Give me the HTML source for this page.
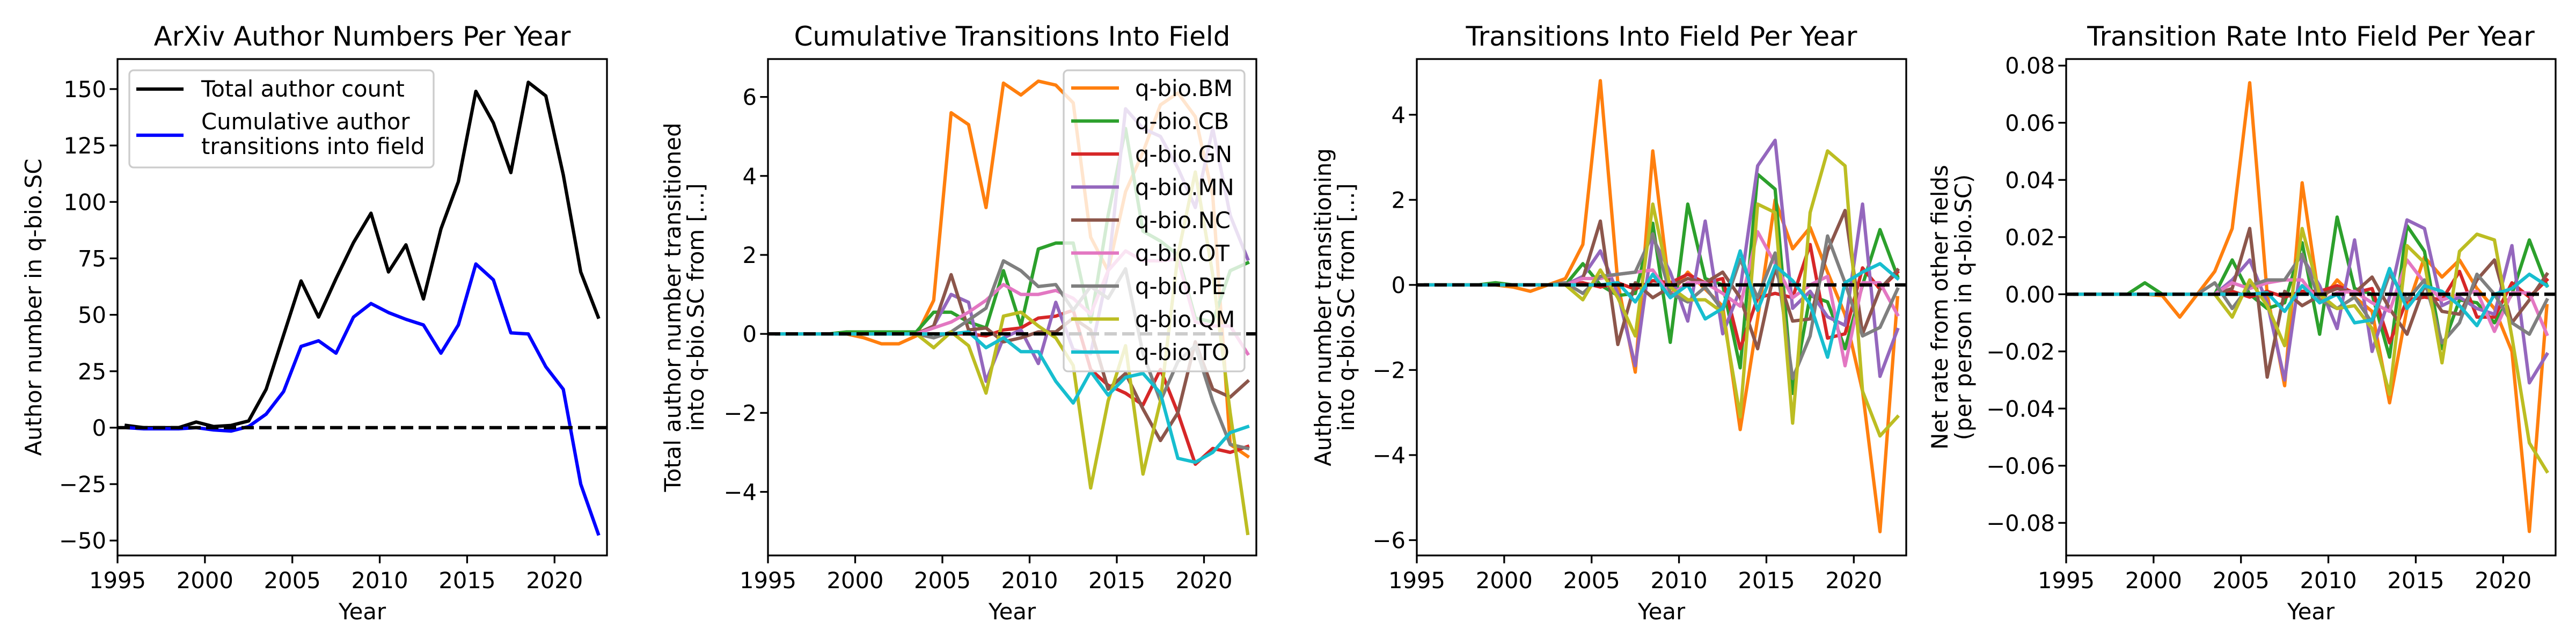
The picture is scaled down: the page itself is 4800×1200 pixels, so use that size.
<!DOCTYPE html>
<html><head><meta charset="utf-8"><style>
html,body{margin:0;padding:0;background:#fff}
svg{display:block;font-family:"DejaVu Sans","Liberation Sans",sans-serif}
</style></head><body>
<svg id="chart" width="4800" height="1200" viewBox="0 0 4800 1200" xmlns="http://www.w3.org/2000/svg"></svg>
<script>
const years = [1995,1996,1997,1998,1999,2000,2001,2002,2003,2004,2005,2006,2007,2008,2009,2010,2011,2012,2013,2014,2015,2016,2017,2018,2019,2020,2021,2022];
const xTicks = [1995,2000,2005,2010,2015,2020];
const fieldNames = ["q-bio.BM","q-bio.CB","q-bio.GN","q-bio.MN","q-bio.NC","q-bio.OT","q-bio.PE","q-bio.QM","q-bio.TO"];

const totalAuthors = [1,0,0,0,2.5,0.5,1,3,17,41,65,49,66,82,95,69,81,57,88,109,149,135,113,153,147,112,69,49];
const cumAuthorTransitions = [0,-0.5,-0.5,-0.5,0,-1,-1.5,0.5,6,16,36,38.5,33,49,55,51,48,45.5,33,45.5,72.5,65.5,42,41.5,27,17,-25,-47];

const cumBM = [0,0,0,0,0,-0.1,-0.25,-0.25,-0.05,0.85,5.6,5.3,3.2,6.35,6.05,6.4,6.3,5.85,2.45,1.6,3.6,4.6,5.8,6.1,5.5,3.5,-2.8,-3.1];
const cumCB = [0,0,0,0,0.05,0.05,0.05,0.05,0.05,0.55,0.55,0.3,0.15,1.6,0.2,2.15,2.3,2.3,0.3,3.0,5.2,2.6,2.35,2.0,0.4,0.3,1.6,1.8];
const cumGN = [0,0,0,0,0,0,0,0,0,0,0,0,-0.05,0.1,0.15,0.4,0.45,0.6,-0.9,-1.3,-1.5,-1.8,-0.9,-2.0,-3.3,-2.9,-3.0,-2.85];
const cumMN = [0,0,0,0,0,0,0,0,0,0.2,1.0,0.8,-1.2,-0.1,0.1,-0.75,0.8,-0.4,-0.5,1.6,5.7,5.2,5.0,4.2,3.2,5.2,3.0,1.9];
const cumNC = [0,0,0,0,0,0,0,0,0,0.2,1.5,0.1,0.15,-0.2,-0.1,0.05,0.05,0.4,0.1,-1.4,-1.0,-1.9,-2.7,-2.0,-0.2,-1.4,-1.6,-1.2];
const cumOT = [0,0,0,0,0,0,0,0,0,0.15,0.3,0.55,0.85,1.25,1.0,1.0,1.1,0.9,0.5,1.6,2.1,1.85,1.85,1.9,0.3,0.2,0.2,-0.5];
const cumPE = [0,0,0,0,0,0,0,0,0,-0.1,0.05,0.35,0.65,1.85,1.6,1.2,1.25,0.6,1.2,0.9,1.65,-0.5,-1.7,-0.7,-0.3,-1.7,-2.8,-2.9];
const cumQM = [0,0,0,0,0,0,0,0,0,-0.35,0.05,-0.3,-1.5,0.45,0.55,0.2,-0.1,-0.8,-3.9,-1.7,-0.3,-3.55,-1.7,2.0,4.1,1.5,-2.0,-5.05];
const cumTO = [0,0,0,0,0,0,0,0,0,0,0,0.05,-0.35,-0.1,-0.45,-0.45,-1.2,-1.75,-0.95,-1.55,-1.1,-1.0,-1.5,-3.15,-3.25,-3.0,-2.5,-2.35];

const yrBM = [0,0,0,0,0,-0.05,-0.15,0,0.15,0.95,4.8,0.05,-2.05,3.15,-0.25,0.3,-0.1,-0.5,-3.4,-0.8,2.0,0.85,1.35,0.3,-0.7,-2.5,-5.8,-0.3];
const yrCB = [0,0,0,0,0.05,0,0,0,0,0.5,0,-0.25,-0.2,1.45,-1.35,1.9,0.15,0,-1.95,2.6,2.25,-2.55,-0.25,-0.4,-1.5,0,1.3,0.2];
const yrGN = [0,0,0,0,0,0,0,0,0,0.05,-0.05,0.05,-0.1,0.1,0.05,0.25,0.05,0.15,-1.5,-0.3,-0.2,-0.3,0.95,-1.25,-1.15,0.4,-0.1,0.3];
const yrMN = [0,0,0,0,0,0,0,0,0,0.2,0.8,-0.2,-1.9,1.1,0.3,-0.85,1.5,-1.15,-0.1,2.8,3.4,-0.55,-0.15,-0.75,-0.95,1.9,-2.15,-1.05];
const yrNC = [0,0,0,0,0,0,0,0,0,0.15,1.5,-1.4,0.05,-0.3,-0.05,0.15,0.05,0.3,-0.3,-1.5,0.4,-0.85,-0.8,0.8,1.75,-1.15,-0.1,0.35];
const yrOT = [0,0,0,0,0,0,0,0,0,0.15,0.15,0.25,0.3,0.35,-0.25,0.05,0.05,-0.2,-0.5,1.25,0.5,-0.3,0,0.2,-1.9,0.05,0.05,-0.7];
const yrPE = [0,0,0,0,0,0,0,0,0.05,-0.2,0.2,0.25,0.3,1.2,-0.2,-0.4,-0.05,-0.6,0.6,-0.3,0.75,-2.2,-1.2,1.15,0.05,-1.2,-1.0,-0.1];
const yrQM = [0,0,0,0,0,0,0,0,0,-0.35,0.35,-0.3,-1.2,1.9,-0.05,-0.35,-0.35,-0.65,-3.1,1.9,1.7,-3.25,1.7,3.15,2.8,-2.5,-3.55,-3.1];
const yrTO = [0,0,0,0,0,0,0,0,0,0,0,0.05,-0.4,0.25,-0.3,0,-0.8,-0.55,0.8,-0.6,0.45,0.1,-0.45,-1.7,0.05,0.3,0.5,0.15];

const rateBM = [0,0,0,0,0,-0.0005,-0.008,0,0.008,0.023,0.074,0,-0.032,0.039,-0.003,0.005,-0.001,-0.006,-0.038,-0.005,0.013,0.006,0.012,0.002,-0.005,-0.02,-0.083,-0.004];
const rateCB = [0,0,0,0,0.004,0,0,0,0,0.012,0,-0.005,-0.003,0.018,-0.014,0.027,0.002,0,-0.022,0.024,0.015,-0.019,-0.002,-0.003,-0.010,0,0.019,0.003];
const rateGN = [0,0,0,0,0,0,0,0,0,0.001,-0.001,0.001,-0.001,0.001,0.001,0.003,0.0005,0.002,-0.017,-0.002,-0.001,-0.002,0.008,-0.008,-0.008,0.004,-0.001,0.005];
const rateMN = [0,0,0,0,0,0,0,0,0,0.005,0.012,-0.003,-0.030,0.013,0.003,-0.012,0.019,-0.020,-0.001,0.026,0.023,-0.004,-0.001,-0.005,-0.007,0.017,-0.031,-0.021];
const rateNC = [0,0,0,0,0,0,0,0,0,0.002,0.023,-0.029,0.001,-0.004,-0.0005,0.002,0.0005,0.006,-0.005,-0.014,0.003,-0.006,-0.007,0.005,0.012,-0.010,-0.002,0.007];
const rateOT = [0,0,0,0,0,0,0,0,0,0.004,0.002,0.004,0.005,0.005,-0.003,0.0005,0.001,-0.003,-0.006,0.012,0.004,-0.002,0,0.001,-0.013,0.0005,0.0005,-0.014];
const ratePE = [0,0,0,0,0,0,0,0,0.004,-0.005,0.003,0.005,0.005,0.014,-0.002,-0.005,-0.001,-0.010,0.007,-0.002,0.005,-0.017,-0.010,0.007,0,-0.010,-0.014,-0.002];
const rateQM = [0,0,0,0,0,0,0,0,0,-0.008,0.005,-0.004,-0.018,0.023,0,-0.005,-0.004,-0.012,-0.035,0.017,0.011,-0.024,0.015,0.021,0.019,-0.015,-0.052,-0.062];
const rateTO = [0,0,0,0,0,0,0,0,0,0,0,0.0005,-0.006,0.003,-0.003,0,-0.010,-0.009,0.009,-0.005,0.003,0.001,-0.004,-0.011,0,0.002,0.007,0.003];

const p1Ticks = [-50,-25,0,25,50,75,100,125,150];
const p1TickLabels = ["\u221250","\u221225","0","25","50","75","100","125","150"];
const p2Ticks = [-4,-2,0,2,4,6];
const p2TickLabels = ["\u22124","\u22122","0","2","4","6"];
const p3Ticks = [-6,-4,-2,0,2,4];
const p3TickLabels = ["\u22126","\u22124","\u22122","0","2","4"];
const p4Ticks = [-0.08,-0.06,-0.04,-0.02,0,0.02,0.04,0.06,0.08];
const p4TickLabels = ["\u22120.08","\u22120.06","\u22120.04","\u22120.02","0.00","0.02","0.04","0.06","0.08"];

const colors = ["#ff7f0e","#2ca02c","#d62728","#9467bd","#8c564b","#e377c2","#7f7f7f","#bcbd22","#17becf"];
const NS = "http://www.w3.org/2000/svg";
const svg = document.getElementById("chart");
function mk(tag, attrs, parent){const e=document.createElementNS(NS,tag);for(const k in attrs)e.setAttribute(k,attrs[k]);(parent||svg).appendChild(e);return e;}

const TOP=110, BOT=1035;
function panel(cfg){
  const g = mk("g",{});
  
  
  const xs = v => cfg.left + (v-1995)/(2023-1995)*(cfg.right-cfg.left);
  const ys = v => BOT - (v-cfg.ymin)/(cfg.ymax-cfg.ymin)*(BOT-TOP);
  const clipId = "clip"+cfg.id;
  const cp = mk("clipPath",{id:clipId},g);
  mk("rect",{x:cfg.left,y:TOP,width:cfg.right-cfg.left,height:BOT-TOP},cp);
  const plot = mk("g",{"clip-path":"url(#"+clipId+")"},g);
  cfg.series.forEach(s=>{
    const pts = s.data.map((v,i)=>xs(years[i]+0.5).toFixed(1)+","+ys(v).toFixed(1)).join(" ");
    const pl = mk("polyline",{points:pts,fill:"none",stroke:s.color,"stroke-width":6.25,"stroke-linejoin":"round","stroke-linecap":"square"},plot);
    
    
  });
  const zl = mk("line",{x1:cfg.left,x2:cfg.right,y1:ys(0),y2:ys(0),stroke:"#000","stroke-width":6.25,"stroke-dasharray":"23,10"},plot);
  
  
  // axes frame
  const fr = mk("rect",{x:cfg.left,y:TOP,width:cfg.right-cfg.left,height:BOT-TOP,fill:"none",stroke:"#000","stroke-width":3.3},g);
  
  
  // x ticks
  xTicks.forEach(t=>{
    const x=xs(t);
    mk("line",{x1:x,x2:x,y1:BOT,y2:BOT+14.6,stroke:"#000","stroke-width":3.3},g);
    const tx = mk("text",{x:x,y:1096,"font-size":41.7,"text-anchor":"middle",fill:"#000"},g);
    tx.textContent=t;
    
    
  });
  cfg.yticks.forEach((t,i)=>{
    const y=ys(t);
    mk("line",{x1:cfg.left-14.6,x2:cfg.left,y1:y,y2:y,stroke:"#000","stroke-width":3.3},g);
    const tx = mk("text",{x:cfg.left-21,y:y+15,"font-size":41.7,"text-anchor":"end",fill:"#000"},g);
    tx.textContent=cfg.ylabels[i];
    
    
  });
  const cx=(cfg.left+cfg.right)/2;
  const tt = mk("text",{x:cx,y:85,"font-size":50,"text-anchor":"middle",fill:"#000"},g);
  tt.textContent=cfg.title;
  
  
  const xl = mk("text",{x:cx,y:1154,"font-size":41.7,"text-anchor":"middle",fill:"#000"},g);
  xl.textContent="Year";
  
  
  const cy=(TOP+BOT)/2;
  cfg.ytitle.forEach((line,i)=>{
    const x=cfg.ytitleX[i];
    const yt = mk("text",{x:x,y:cy,"font-size":41.7,"text-anchor":"middle",fill:"#000",transform:"rotate(-90 "+x+" "+cy+")"},g);
    yt.textContent=line;
    
    
  });
  return g;
}

function legend(x,y,w,h,entries){
  const g = mk("g",{});
  
  
  mk("rect",{x:x,y:y,width:w,height:h,rx:8,fill:"rgba(255,255,255,0.8)",stroke:"#cccccc","stroke-width":3.3},g);
  entries.forEach(e=>{
    const eg = mk("g",{},g);
    
    
    mk("line",{x1:e.lx1,x2:e.lx2,y1:e.ly,y2:e.ly,stroke:e.color,"stroke-width":6.25},eg);
    e.lines.forEach((ln,i)=>{
      const t = mk("text",{x:e.tx,y:e.ty+i*46,"font-size":41.7,fill:"#000"},eg);
      t.textContent=ln;
    });
  });
}

const keys=["BM","CB","GN","MN","NC","OT","PE","QM","TO"];
const cumData=[cumBM,cumCB,cumGN,cumMN,cumNC,cumOT,cumPE,cumQM,cumTO];
const yrData=[yrBM,yrCB,yrGN,yrMN,yrNC,yrOT,yrPE,yrQM,yrTO];
const rateData=[rateBM,rateCB,rateGN,rateMN,rateNC,rateOT,ratePE,rateQM,rateTO];
const mkSeries = arr => arr.map((d,i)=>({key:keys[i],color:colors[i],data:d}));

panel({id:1,name:"panel-author-numbers",left:219,right:1131,ymin:-56.6,ymax:163.3,yticks:p1Ticks,ylabels:p1TickLabels,
  title:"ArXiv Author Numbers Per Year",ytitle:["Author number in q-bio.SC"],ytitleX:[77],
  series:[{key:"total",color:"#000",data:totalAuthors},{key:"cumulative",color:"#0000ff",data:cumAuthorTransitions}]});
legend(241,131,567,181,[
  {color:"#000",lx1:254,lx2:342,ly:166,tx:375,ty:180,lines:["Total author count"]},
  {color:"#0000ff",lx1:254,lx2:342,ly:252,tx:375,ty:241,lines:["Cumulative author","transitions into field"]}
]);

panel({id:2,name:"panel-cumulative-transitions",left:1431,right:2341,ymin:-5.61,ymax:6.96,yticks:p2Ticks,ylabels:p2TickLabels,
  title:"Cumulative Transitions Into Field",ytitle:["Total author number transitioned","into q-bio.SC from [...]"],ytitleX:[1268,1311],
  series:mkSeries(cumData)});
legend(1982,131,337,561,fieldNames.map((n,i)=>({color:colors[i],lx1:1996,lx2:2085,ly:164+i*61.5,tx:2115,ty:179+i*61.5,lines:[n]})));

panel({id:3,name:"panel-transitions-per-year",left:2640,right:3552,ymin:-6.36,ymax:5.31,yticks:p3Ticks,ylabels:p3TickLabels,
  title:"Transitions Into Field Per Year",ytitle:["Author number transitioning","into q-bio.SC from [...]"],ytitleX:[2480,2523],
  series:mkSeries(yrData)});

panel({id:4,name:"panel-transition-rate",left:3850,right:4762,ymin:-0.0914,ymax:0.0823,yticks:p4Ticks,ylabels:p4TickLabels,
  title:"Transition Rate Into Field Per Year",ytitle:["Net rate from other fields","(per person in q-bio.SC)"],ytitleX:[3629,3673],
  series:mkSeries(rateData)});
</script>
</body></html>
